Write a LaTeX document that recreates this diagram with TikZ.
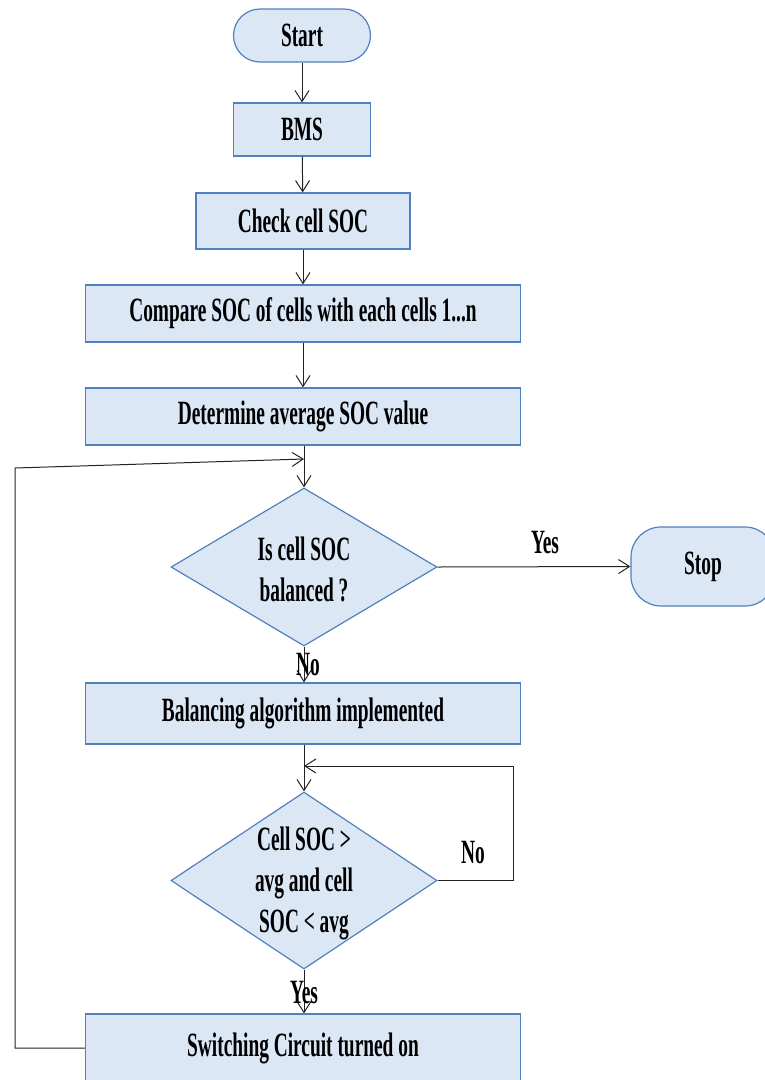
\documentclass[tikz,border=0pt]{standalone}
\usepackage{fontspec}
\setmainfont{Liberation Serif}[FakeStretch=0.57]
\usetikzlibrary{shapes.geometric,arrows.meta}
\definecolor{boxfill}{RGB}{220,231,245}
\definecolor{boxdraw}{RGB}{80,128,190}
\definecolor{linec}{RGB}{35,35,35}
\begin{document}
\begin{tikzpicture}[x=1pt,y=-1pt,
  txt/.style={font=\fontsize{34}{41}\selectfont\bfseries, text=black},
  procbox/.style={txt, draw=boxdraw, fill=boxfill, line width=1.2pt, rectangle, inner sep=0pt},
  termbox/.style={procbox},
  decbox/.style={draw=boxdraw, fill=boxfill, line width=1.2pt, diamond, inner sep=0pt, minimum width=266pt, minimum height=158pt},
  conn/.style={draw=linec, line width=1pt},
  arr/.style={conn, -{Straight Barb[length=11pt,width=14pt,line width=1pt]}},
  lbl/.style={txt, inner sep=0pt}
]
\useasboundingbox (0,0) rectangle (764,1080);

\node[termbox, minimum width=137pt, minimum height=53pt, rounded corners=26.5pt] (start) at (302,35.5) {Start};
\node[procbox, minimum width=137pt, minimum height=53pt] (bms) at (302,129.5) {BMS};
\node[procbox, minimum width=214pt, minimum height=56pt] (check) at (303,221) {Check cell SOC};
\node[procbox, minimum width=435pt, minimum height=57pt] (comp) at (303,313.5) {Compare SOC of cells with each cells 1...n};
\node[procbox, minimum width=435pt, minimum height=57pt] (avg) at (303,416.5) {Determine average SOC value};

\node[decbox] (d1) at (304,567) {};
\node[lbl, align=center] (d1t) at (304,569) {Is cell SOC\\balanced ?};

\node[termbox, minimum width=144pt, minimum height=79pt, rounded corners=30pt] (stop) at (703,566.5) {Stop};

\node[procbox, minimum width=435pt, minimum height=61pt] (bal) at (303,713.5) {Balancing algorithm implemented};

\node[decbox, minimum height=177pt] (d2) at (304,880.5) {};
\node[lbl, align=center] (d2t) at (304,883) {Cell SOC >\\avg and cell\\SOC < avg};

\node[procbox, minimum width=435pt, minimum height=68pt] (sw) at (303,1048) {Switching Circuit turned on};

% main chain
\draw[arr] (start) -- (bms);
\draw[arr] (bms) -- (check);
\draw[arr] (check) -- (comp);
\draw[arr] (comp) -- (avg);
\draw[arr] (avg.south -| d1.north) -- (d1.north);
\draw[arr] (d1.east) -- (stop.west);
\draw[arr] (d1.south) -- (bal.north -| d1.south);
\draw[arr] (bal.south -| d2.north) -- (d2.north);
\draw[arr] (d2.south) -- (sw.north -| d2.south);

% labels
\node[lbl] (yes1) at (545,543) {Yes};
\node[lbl] (no1) at (308,665) {No};
\node[lbl] (no2) at (473,853) {No};
\node[lbl] (yes2) at (304,993) {Yes};

% right loop
\coordinate (r1) at (513,880.5);
\coordinate (r2) at (513,766);
\coordinate (j2) at (304,766);
\draw[arr] (d2.east) -- (r1) -- (r2) -- (j2);

% left loop
\coordinate (l1) at (15,1048);
\coordinate (l2) at (15,468);
\coordinate (j1) at (304,459);
\draw[arr] (sw.west) -- (l1) -- (l2) -- (j1);
\end{tikzpicture}
\end{document}
